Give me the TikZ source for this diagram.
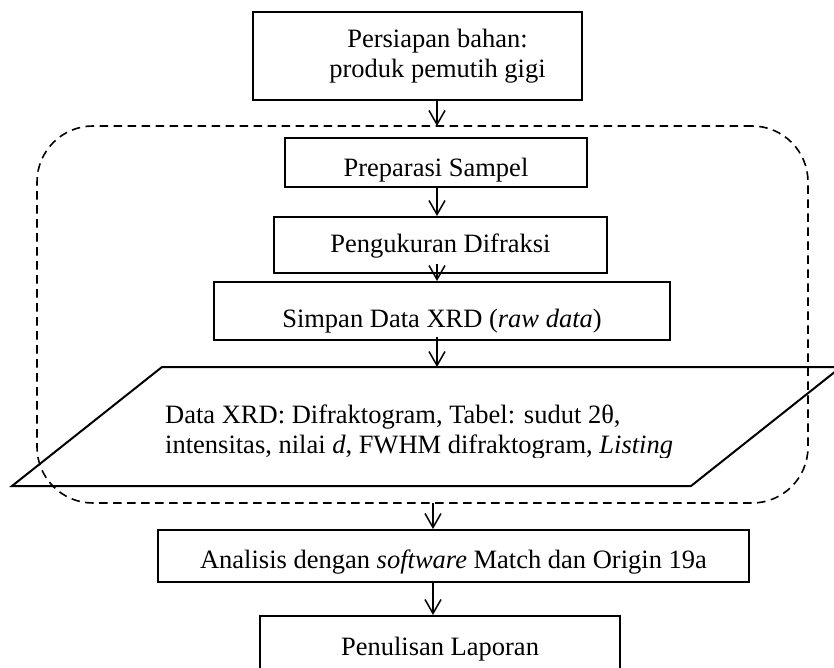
\documentclass[tikz,border=0pt]{standalone}
\usepackage{fontspec}
\setmainfont{Liberation Serif}
\usetikzlibrary{arrows.meta}
\begin{document}
\begin{tikzpicture}[x=1pt,y=-1pt,
  box/.style={draw,line width=2pt,inner sep=0pt,fill=none},
  txt/.style={inner sep=0pt,anchor=base,font=\fontsize{26.5}{30}\selectfont},
  flow/.style={line width=1.5pt,-{Straight Barb[length=14pt,width=16pt,line width=1.5pt]}},
  grp/.style={draw,line width=1.6pt,dash pattern=on 8.5pt off 5.5pt,rounded corners=56pt}]
\useasboundingbox (0,0) rectangle (834,668);
% dashed group
\node[grp,inner sep=0pt,minimum width=771pt,minimum height=377pt] (group) at (422.5,314.5) {};
% boxes
\node[box,minimum width=329pt,minimum height=88pt] (b1) at (417.5,56) {};
\node[txt] (t1a) at (437.5,48) {Persiapan bahan:};
\node[txt] (t1b) at (437.5,78) {produk pemutih gigi};
\node[box,minimum width=302pt,minimum height=49pt] (b2) at (436,162.5) {};
\node[txt] (t2) at (436,177) {Preparasi Sampel};
\node[box,minimum width=333pt,minimum height=56pt] (b3) at (440.5,245) {};
\node[txt] (t3) at (440.5,252) {Pengukuran Difraksi};
\node[box,minimum width=456pt,minimum height=58pt] (b4) at (442,311) {};
\node[txt] (t4) at (442,327) {Simpan Data XRD (\textit{raw data})};
% parallelogram
\coordinate (p1) at (162,367);
\coordinate (p2) at (841,367);
\coordinate (p3) at (691,486);
\coordinate (p4) at (12,486);
\draw[line width=2pt,line join=miter] (p1) -- (p2) -- (p3) -- (p4) -- cycle;
\begin{scope}
\clip (0,360) rectangle (834,457.5);
\node[txt,anchor=base west,align=left] (t5a) at (165,423) {Data XRD: Difraktogram, Tabel: sudut 2θ,};
\node[txt,anchor=base west,align=left] (t5b) at (165,453) {intensitas, nilai \textit{d}, FWHM difraktogram, \textit{Listing}};
\end{scope}
\node[box,minimum width=591pt,minimum height=52pt] (b6) at (453.5,556) {};
\node[txt] (t6) at (453.5,568) {Analisis dengan \textit{software} Match dan Origin 19a};
\node[box,minimum width=360pt,minimum height=70pt,anchor=north] (b7) at (440,615) {};
\node[txt] (t7) at (440,655) {Penulisan Laporan};
% connectors
\coordinate (a1s) at (437,100);
\coordinate (a1e) at (437,126);
\draw[flow] (a1s) -- (a1e);
\draw[flow] (b2.south -| a1s) -- (b3.north -| a1s);
\coordinate (a3s) at (437,264);
\draw[flow] (a3s) -- (b4.north -| a3s);
\coordinate (a4s) at (437,337);
\coordinate (a4e) at (437,367);
\draw[flow] (a4s) -- (a4e);
\coordinate (a5s) at (433,503);
\draw[flow] (a5s) -- (b6.north -| a5s);
\draw[flow] (b6.south -| a5s) -- (b7.north -| a5s);
\end{tikzpicture}
\end{document}
